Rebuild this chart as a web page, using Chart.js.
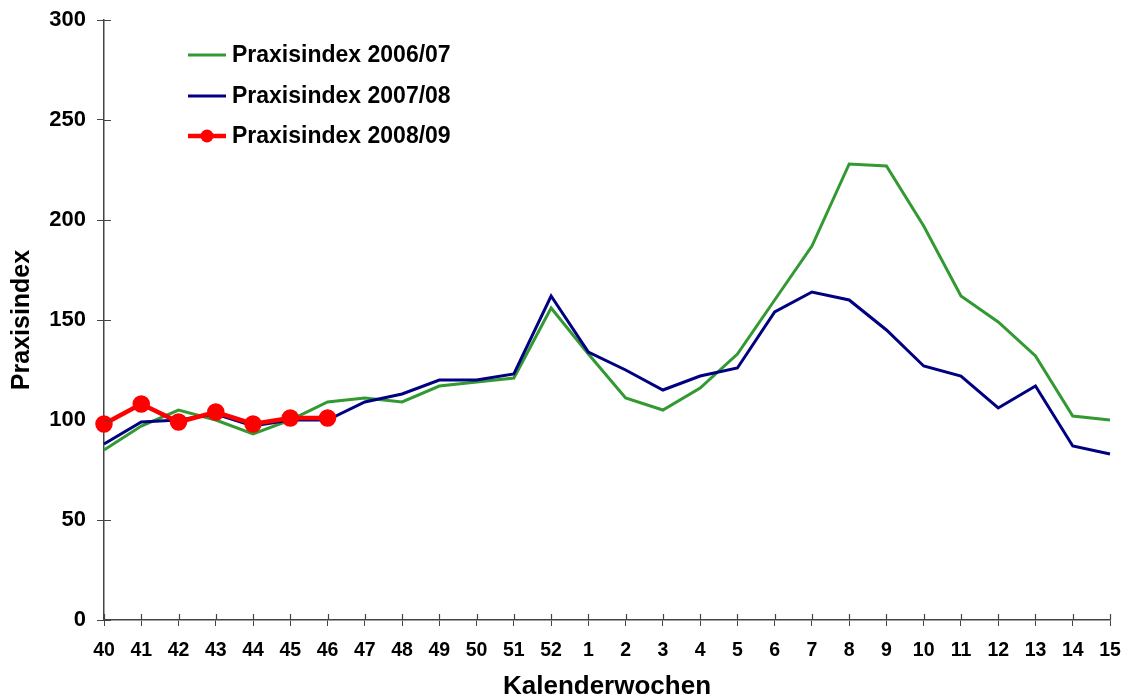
<!DOCTYPE html>
<html>
<head>
<meta charset="utf-8">
<script src="https://cdn.jsdelivr.net/npm/chart.js@4"></script>
<style>
  html, body { margin: 0; padding: 0; background: #fff; }
  #wrap { width: 1123px; height: 700px; }
</style>
</head>
<body>
<div id="wrap"><canvas id="chart"></canvas></div>
<script>
var weeks = ['40', '41', '42', '43', '44', '45', '46', '47', '48', '49', '50', '51', '52',
  '1', '2', '3', '4', '5', '6', '7', '8', '9', '10', '11', '12', '13', '14', '15'];

var index0607 = [85, 97, 105, 100, 93, 100, 109, 111, 109, 117, 119, 121, 156,
  133, 111, 105, 116, 133, 160, 187, 228, 227, 197, 162, 149, 132, 102, 100];

var index0708 = [88, 99, 100, 103, 97, 100, 100, 109, 113, 120, 120, 123, 162,
  134, 125, 115, 122, 126, 154, 164, 160, 145, 127, 122, 106, 117, 87, 83];

var index0809 = [98, 108, 99, 104, 98, 101, 101];

var yTicks = [0, 50, 100, 150, 200, 250, 300];

var axisColor = '#444';
var fontFamily = '"Liberation Sans", Arial, sans-serif';

// ticks crossing the axis: draw the inner half too
var innerTicks = {
  id: 'innerTicks',
  afterDraw: function(chart) {
    var ctx = chart.ctx;
    var x = chart.scales.x, y = chart.scales.y;
    ctx.save();
    ctx.strokeStyle = axisColor;
    ctx.lineWidth = 1.2;
    ctx.beginPath();
    y.ticks.forEach(function(t, i) {
      var py = Math.round(y.getPixelForTick(i)) + 0.5;
      ctx.moveTo(x.left, py);
      ctx.lineTo(x.left + 7, py);
    });
    x.ticks.forEach(function(t, i) {
      var px = Math.round(x.getPixelForTick(i)) + 0.5;
      ctx.moveTo(px, y.bottom);
      ctx.lineTo(px, y.bottom - 6);
    });
    ctx.stroke();
    ctx.restore();
  }
};

// legend inside the plot, top left
var innerLegend = {
  id: 'innerLegend',
  afterDraw: function(chart) {
    var ctx = chart.ctx;
    var rows = [55, 96, 136];
    ctx.save();
    ctx.font = 'bold 23px ' + fontFamily;
    ctx.textBaseline = 'middle';
    ctx.fillStyle = '#000';
    [0, 1, 2].forEach(function(i) {
      var ds = chart.data.datasets[i];
      var yy = rows[i];
      ctx.strokeStyle = ds.borderColor;
      ctx.lineWidth = ds.borderWidth;
      ctx.beginPath();
      ctx.moveTo(188, yy);
      ctx.lineTo(226, yy);
      ctx.stroke();
      if (ds.pointRadius > 0) {
        ctx.fillStyle = ds.pointBackgroundColor;
        ctx.beginPath();
        ctx.arc(207, yy, ds.pointRadius, 0, Math.PI * 2);
        ctx.fill();
      }
      ctx.fillStyle = '#000';
      ctx.fillText(ds.label, 232, yy + 1);
    });
    ctx.restore();
  }
};

var ctx = document.getElementById('chart');
var myChart = new Chart(ctx, { // eslint-disable-line
  type: 'line',
  data: {
    labels: weeks,
    datasets: [
      {
        label: 'Praxisindex 2006/07',
        data: index0607,
        borderColor: '#339933',
        borderWidth: 3,
        pointRadius: 0,
        order: 2
      },
      {
        label: 'Praxisindex 2007/08',
        data: index0708,
        borderColor: '#000080',
        borderWidth: 3,
        pointRadius: 0,
        order: 1
      },
      {
        label: 'Praxisindex 2008/09',
        data: index0809,
        borderColor: '#ff0000',
        backgroundColor: '#ff0000',
        pointBackgroundColor: '#ff0000',
        pointBorderColor: '#ff0000',
        borderWidth: 4.5,
        pointRadius: 6.5,
        order: 0
      }
    ]
  },
  options: {
    responsive: true,
    maintainAspectRatio: false,
    animation: false,
    layout: { padding: { top: 20, right: 0, left: 0, bottom: 0 } },
    elements: { line: { tension: 0 } },
    plugins: {
      legend: { display: false },
      tooltip: { enabled: false }
    },
    scales: {
      x: {
        offset: false,
        border: { display: true, color: axisColor, width: 1.5 },
        grid: { drawOnChartArea: false, drawTicks: true, tickLength: 6, color: axisColor },
        ticks: {
          color: '#000',
          padding: 13,
          maxRotation: 0,
          autoSkip: false,
          font: { family: fontFamily, size: 19.5, weight: 'bold' }
        },
        title: {
          display: true,
          text: 'Kalenderwochen',
          color: '#000',
          padding: 0,
          font: { family: fontFamily, size: 26, weight: 'bold', lineHeight: 1 }
        },
        afterFit: function(s) {
          s.height = 80;
          s.paddingLeft = 0;
          s.paddingRight = 13;
        }
      },
      y: {
        min: 0,
        max: 300,
        afterBuildTicks: function(s) {
          s.ticks = yTicks.map(function(v) { return { value: v }; });
        },
        border: { display: true, color: axisColor, width: 1.5 },
        grid: { drawOnChartArea: false, drawTicks: true, tickLength: 7, color: axisColor },
        ticks: {
          color: '#000',
          padding: 11,
          font: { family: fontFamily, size: 22, weight: 'bold' }
        },
        title: {
          display: true,
          text: 'Praxisindex',
          color: '#000',
          padding: { top: 7, bottom: 0 },
          font: { family: fontFamily, size: 25, weight: 'bold', lineHeight: 1.2 }
        },
        afterFit: function(s) {
          s.width = 104;
          s.paddingTop = 0;
          s.paddingBottom = 0;
        }
      }
    }
  },
  plugins: [innerTicks, innerLegend]
});
</script>
</body>
</html>
